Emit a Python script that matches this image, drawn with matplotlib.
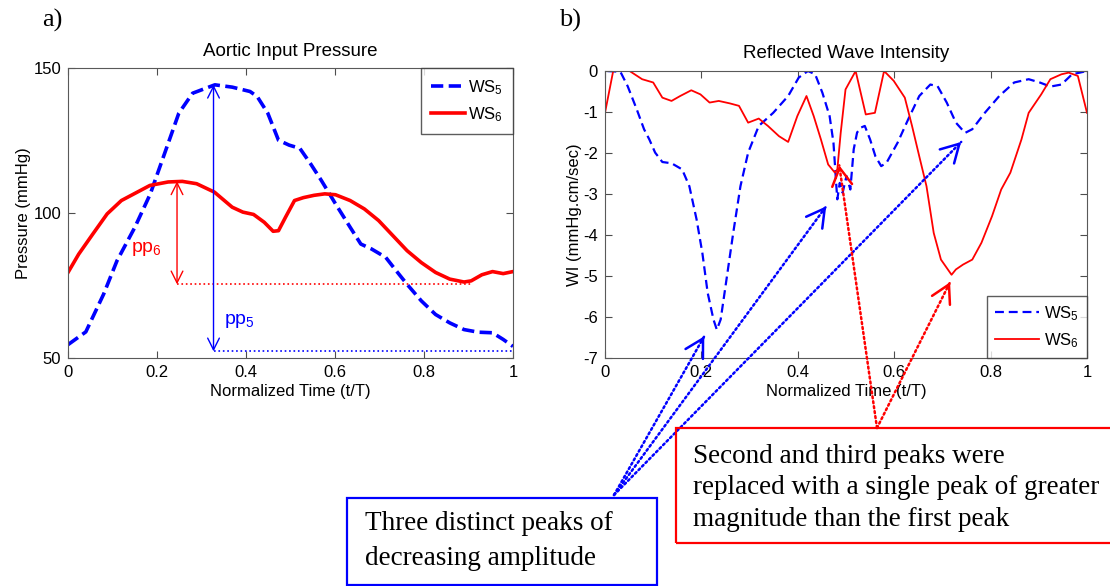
import numpy as np
import matplotlib.pyplot as plt
from matplotlib.patches import Rectangle

plt.rcParams['font.family'] = ['Liberation Sans', 'DejaVu Sans']
plt.rcParams['mathtext.default'] = 'regular'
plt.rcParams['axes.unicode_minus'] = False

# a) Aortic input pressure
t_ws5_p = [0.0, 0.04, 0.08, 0.11, 0.15, 0.185, 0.217, 0.249, 0.28, 0.33, 0.369, 0.409, 0.425,
           0.449, 0.473, 0.497, 0.521, 0.545, 0.569, 0.601, 0.634, 0.658, 0.682, 0.714, 0.738,
           0.762, 0.794, 0.826, 0.858, 0.89, 0.922, 0.954, 0.978, 1.0]
p_ws5 = [54.6, 59, 72, 83.5, 95, 106.6, 120.5, 134.4, 141.3, 144.2, 143.4, 141.9, 140.2,
         134.4, 125.1, 123.4, 122.3, 117, 111.3, 103.2, 95.1, 89.3, 87.6, 84.7, 80,
         75.4, 69.7, 65, 62.1, 59.8, 58.9, 58.7, 56.4, 54]
t_ws6_p = [0.0, 0.024, 0.056, 0.088, 0.12, 0.152, 0.184, 0.225, 0.257, 0.289, 0.329, 0.369,
           0.393, 0.417, 0.441, 0.461, 0.473, 0.489, 0.509, 0.529, 0.553, 0.577, 0.601, 0.634,
           0.666, 0.698, 0.73, 0.762, 0.794, 0.826, 0.858, 0.89, 0.906, 0.93, 0.954, 0.978, 1.0]
p_ws6 = [79.5, 85.8, 92.8, 99.7, 104.3, 106.9, 109.5, 110.7, 110.9, 110.1, 107.2, 102,
         100.3, 99.5, 96.8, 93.7, 93.9, 98.6, 104.3, 105.3, 106.1, 106.6, 106.3, 104.3,
         101.4, 97.4, 92.2, 87, 82.9, 79.5, 77.2, 76.2, 76.6, 78.7, 79.8, 79.1, 79.8]

pp6_t, pp6_top, pp6_bot, pp6_end = 0.245, 110.9, 75.4, 0.905
pp5_t, pp5_top, pp5_bot, pp5_end = 0.327, 144.2, 52.3, 1.0

# b) Reflected wave intensity
t_ws5_wi = [0.005, 0.032, 0.047, 0.066, 0.081, 0.092, 0.104, 0.119, 0.138, 0.16, 0.175, 0.19,
            0.202, 0.213, 0.225, 0.232, 0.24, 0.251, 0.266, 0.281, 0.297, 0.319, 0.349, 0.38,
            0.402, 0.421, 0.436, 0.451, 0.466, 0.474, 0.48, 0.482, 0.487, 0.493, 0.501, 0.509,
            0.516, 0.523, 0.531, 0.539, 0.55, 0.561, 0.573, 0.584, 0.607, 0.629, 0.652, 0.675,
            0.69, 0.709, 0.728, 0.747, 0.762, 0.788, 0.818, 0.849, 0.879, 0.902, 0.924, 0.947,
            0.969, 0.985, 1.0]
wi_ws5 = [0, -0.02, -0.37, -0.94, -1.42, -1.67, -1.99, -2.22, -2.25, -2.4, -2.81, -3.62,
          -4.44, -5.41, -6.06, -6.31, -6.06, -5.17, -3.95, -2.81, -1.99, -1.34, -1.02, -0.61,
          -0.16, 0, -0.08, -0.53, -1.1, -1.75, -2.81, -3.13, -2.73, -2.97, -2.56, -2.89,
          -1.91, -1.5, -1.38, -1.34, -1.67, -2.08, -2.32, -2.24, -1.75, -1.18, -0.61, -0.33,
          -0.37, -0.77, -1.26, -1.51, -1.42, -1.02, -0.61, -0.28, -0.2, -0.28, -0.38, -0.33,
          -0.08, -0.04, 0]
t_ws6_wi = [0.0, 0.017, 0.051, 0.077, 0.1, 0.119, 0.138, 0.156, 0.179, 0.198, 0.217, 0.236,
            0.259, 0.278, 0.297, 0.319, 0.338, 0.361, 0.38, 0.399, 0.418, 0.433, 0.448, 0.463,
            0.477, 0.482, 0.489, 0.499, 0.52, 0.541, 0.56, 0.579, 0.599, 0.622, 0.637, 0.652,
            0.667, 0.682, 0.697, 0.719, 0.728, 0.743, 0.762, 0.781, 0.803, 0.822, 0.841, 0.864,
            0.879, 0.905, 0.924, 0.947, 0.962, 0.981, 1.0]
wi_ws6 = [-1.02, 0, 0, -0.2, -0.28, -0.65, -0.73, -0.61, -0.47, -0.57, -0.77, -0.73,
          -0.79, -0.85, -1.26, -1.16, -1.34, -1.59, -1.73, -1.1, -0.61, -1.1, -1.67, -2.28,
          -2.48, -2.4, -1.51, -0.45, 0, -1.06, -1.02, 0, -0.24, -0.65, -1.34, -2.08,
          -2.81, -3.95, -4.6, -4.97, -4.84, -4.72, -4.6, -4.19, -3.54, -2.89, -2.48, -1.67,
          -1.02, -0.57, -0.2, -0.08, -0.04, -0.12, -1.02]

blue_tips = [(0.206, -6.47), (0.459, -3.30), (0.739, -1.73)]
red_tips = [(0.486, -2.30), (0.716, -5.15)]

blue_note = "Three distinct peaks of\ndecreasing amplitude"
red_note = ("Second and third peaks were\nreplaced with a single peak of greater\n"
            "magnitude than the first peak")

W, H = 1110, 586
fig = plt.figure(figsize=(W / 100, H / 100), dpi=100)
ax1 = fig.add_axes([68 / W, 1 - 358 / H, 445 / W, 290 / H])
ax2 = fig.add_axes([605 / W, 1 - 358 / H, 482 / W, 287 / H])

for ax in (ax1, ax2):
    ax.tick_params(direction='in', top=True, right=True, length=5, labelsize=12,
                   color='0.3', pad=5)
    for s in ax.spines.values():
        s.set_color('0.35')
    ax.set_xlim(0, 1)
    ax.set_xticks([0, 0.2, 0.4, 0.6, 0.8, 1])
    ax.set_xticklabels(['0', '0.2', '0.4', '0.6', '0.8', '1'])
    ax.set_xlabel('Normalized Time (t/T)', fontsize=12, labelpad=3)

# left panel
ax1.plot(t_ws5_p, p_ws5, color='#0000ff', ls=(0, (3.4, 1.5)), lw=2.6, label=r'WS$_5$')
ax1.plot(t_ws6_p, p_ws6, color='#ff0000', lw=2.6, label=r'WS$_6$')
ax1.set_ylim(50, 150)
ax1.set_yticks([50, 100, 150])
ax1.set_ylabel('Pressure (mmHg)', fontsize=12, labelpad=2)
ax1.set_title('Aortic Input Pressure', fontsize=13.5, pad=9)

ax1.annotate('', xy=(pp6_t, pp6_top), xytext=(pp6_t, pp6_bot),
             arrowprops=dict(arrowstyle='<->,head_length=0.7,head_width=0.35', color='red',
                             lw=1.0, shrinkA=0, shrinkB=0, mutation_scale=12))
ax1.plot([pp6_t, pp6_end], [pp6_bot, pp6_bot], color='red', ls=':', lw=1.2)
ax1.text(0.176, 87.6, r'pp$_6$', color='red', fontsize=14, ha='center', va='center')
ax1.annotate('', xy=(pp5_t, pp5_top), xytext=(pp5_t, pp5_bot),
             arrowprops=dict(arrowstyle='<->,head_length=0.7,head_width=0.35', color='blue',
                             lw=1.0, shrinkA=0, shrinkB=0, mutation_scale=12))
ax1.plot([pp5_t, pp5_end], [pp5_bot, pp5_bot], color='blue', ls=':', lw=1.2)
ax1.text(0.385, 62.7, r'pp$_5$', color='blue', fontsize=14, ha='center', va='center')

leg1 = ax1.legend(loc='upper right', borderaxespad=0, fontsize=12, fancybox=False,
                  handlelength=2.0, handletextpad=0.2, borderpad=0.6, labelspacing=0.5)
leg1.get_frame().set_edgecolor('0.2')
leg1.get_frame().set_linewidth(1.0)

# right panel
ax2.plot(t_ws5_wi, wi_ws5, color='#0000ff', ls=(0, (4, 2.2)), lw=1.6, label=r'WS$_5$')
ax2.plot(t_ws6_wi, wi_ws6, color='#ff0000', lw=1.3, label=r'WS$_6$')
ax2.set_ylim(-7, 0)
ax2.set_yticks(range(-7, 1))
ax2.set_ylabel('WI (mmHg.cm/sec)', fontsize=12, labelpad=1)
ax2.set_title('Reflected Wave Intensity', fontsize=13.5, pad=9)

leg2 = ax2.legend(loc='lower right', borderaxespad=0, fontsize=12, fancybox=False,
                  handlelength=2.6, handletextpad=0.3, borderpad=0.5, labelspacing=0.5)
leg2.get_frame().set_edgecolor('0.2')
leg2.get_frame().set_linewidth(1.0)


def dotted_arrow(ax, tip, start, color):
    sx, sy = start[0], H - start[1]
    ax.annotate('', xy=tip, xycoords='data', xytext=(sx, sy), textcoords='figure pixels',
                arrowprops=dict(arrowstyle='-', color=color, lw=1.8, ls=(0, (0.8, 1.2)),
                                shrinkA=0, shrinkB=0))
    tx, ty = ax.transData.transform(tip)
    d = np.array([tx - sx, ty - sy])
    d = d / np.hypot(*d)
    bx, by = tx - 4 * d[0], ty - 4 * d[1]
    ax.annotate('', xy=tip, xycoords='data', xytext=(bx, by), textcoords='figure pixels',
                arrowprops=dict(arrowstyle='->,head_length=0.8,head_width=0.45', color=color,
                                lw=1.8, shrinkA=0, shrinkB=0, mutation_scale=16))


for tip in blue_tips:
    dotted_arrow(ax2, tip, (614, 495), 'blue')
for tip in red_tips:
    dotted_arrow(ax2, tip, (877, 428), 'red')

# annotation boxes
fig.patches.append(Rectangle((347 / W, 1 / H), 310 / W, 87 / H, transform=fig.transFigure,
                             fill=False, edgecolor='blue', lw=1.6))
fig.text(365 / W, 1 - 541 / H, blue_note, fontsize=19.5, family='Liberation Serif',
         va='center', ha='left', linespacing=1.5)
fig.patches.append(Rectangle((676 / W, 1 - 543 / H), 450 / W, 115 / H, transform=fig.transFigure,
                             fill=False, edgecolor='red', lw=1.6))
fig.text(693 / W, 1 - 488 / H, red_note, fontsize=19.5, family='Liberation Serif',
         va='center', ha='left', linespacing=1.35)

fig.text(52 / W, 1 - 20 / H, 'a)', fontsize=19, family='Liberation Serif', ha='center', va='center')
fig.text(570 / W, 1 - 20 / H, 'b)', fontsize=19, family='Liberation Serif', ha='center', va='center')

fig.savefig('out.png', dpi=100)
